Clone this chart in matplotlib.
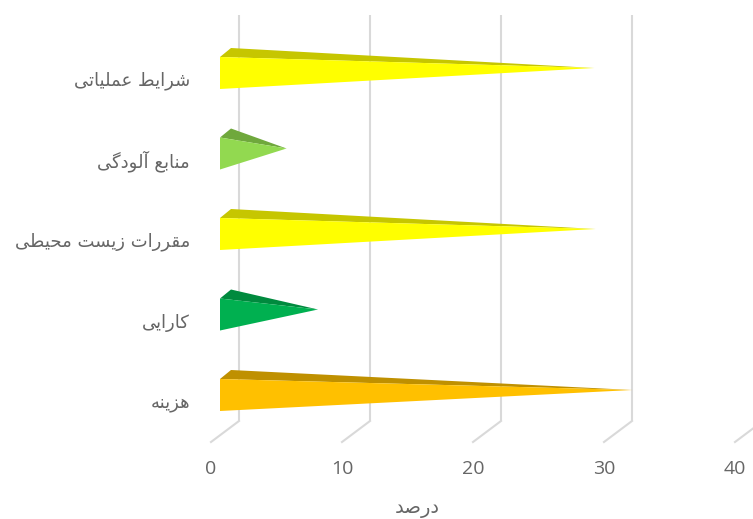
import unicodedata
import matplotlib
matplotlib.use("Agg")
import matplotlib.pyplot as plt

# top to bottom order is reversed here: index 0 sits at the bottom
categories = ['هزینه', 'کارایی', 'مقررات زیست محیطی', 'منابع آلودگی', 'شرایط عملیاتی']
values = [31.1, 7.1, 28.3, 4.7, 28.2]
front_colors = ['#FFC000', '#00B050', '#FFFF00', '#92D950', '#FFFF00']
top_colors = ['#BF9000', '#008A3E', '#C6C600', '#6FA83C', '#C6C600']
xticks = [0, 10, 20, 30, 40]
xlabel = 'درصد'

# matplotlib does no arabic shaping, so pick the joined glyph forms by hand
def form(ch, suffix):
    try:
        return unicodedata.lookup(unicodedata.name(ch) + ' ' + suffix + ' FORM')
    except KeyError:
        return None

def joins_next(ch):
    return ch != ' ' and form(ch, 'INITIAL') is not None

def shape(s):
    out = []
    for i, ch in enumerate(s):
        if ch == ' ':
            out.append(ch)
            continue
        prev = i > 0 and joins_next(s[i - 1])
        nxt = i < len(s) - 1 and s[i + 1] != ' ' and joins_next(ch)
        if prev and nxt:
            out.append(form(ch, 'MEDIAL'))
        elif prev:
            out.append(form(ch, 'FINAL'))
        elif nxt:
            out.append(form(ch, 'INITIAL'))
        else:
            out.append(form(ch, 'ISOLATED'))
    return ''.join(out)[::-1]

fig = plt.figure(figsize=(7.53, 5.19), dpi=100)
ax = fig.add_axes([0, 0, 1, 1])
# 1 x unit = 13.1 px, 1 category = 80.5 px
ax.set_xlim(-239 / 13.1, (753 - 239) / 13.1)
ax.set_ylim((395 - 519) / 80.5, 395 / 80.5)
ax.axis('off')

grid_c = '#D9D9D9'
text_c = '#666666'
floor_dx = 28 / 13.1
floor_dy = 21 / 80.5
wall_y = (395 - 421) / 80.5
top_y = (395 - 15) / 80.5
for t in xticks:
    ax.plot([t, t], [wall_y, top_y], color=grid_c, lw=1.5, zorder=1, solid_capstyle='butt')
    ax.plot([t, t - floor_dx], [wall_y, wall_y - floor_dy], color=grid_c, lw=1.5, zorder=1)
    ax.text(t - floor_dx, (395 - 469) / 80.5, str(t), color=text_c, fontsize=14,
            family='Open Sans', ha='center', va='center')

x0 = -19 / 13.1        # front face left edge
apex0 = -14 / 13.1     # where a value of zero would put the tip
half = 16 / 80.5
for i, v in enumerate(values):
    tip = (apex0 + v, i + 5 / 80.5)
    ax.fill([x0, x0 + 11 / 13.1, tip[0]], [i + half, i + half + 9 / 80.5, tip[1]],
            color=top_colors[i], lw=0, zorder=2)
    ax.fill([x0, x0, tip[0]], [i + half, i - half, tip[1]],
            color=front_colors[i], lw=0, zorder=3)
    ax.text(-49 / 13.1, i - 8 / 80.5, shape(categories[i]), color=text_c, fontsize=13,
            family='DejaVu Sans', ha='right', va='center')

ax.text((417 - 239) / 13.1, (395 - 508) / 80.5, shape(xlabel), color=text_c, fontsize=14,
        family='DejaVu Sans', ha='center', va='center')

fig.savefig('out.png', dpi=100)
